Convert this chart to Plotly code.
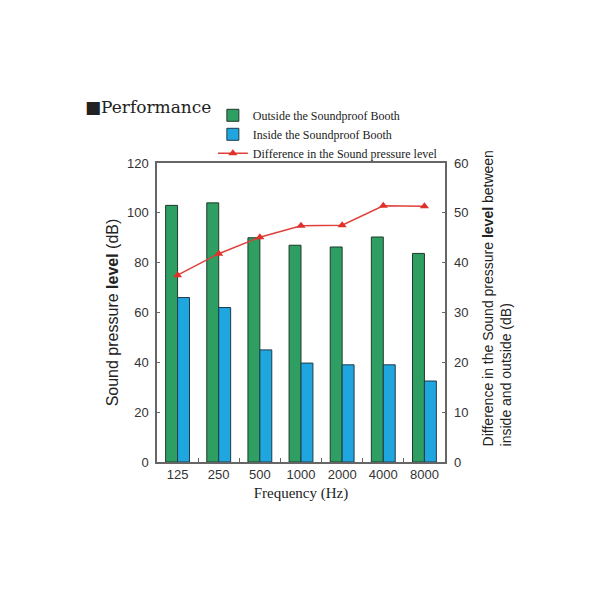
import plotly.graph_objects as go

categories = ["125", "250", "500", "1000", "2000", "4000", "8000"]
outside = [103, 104, 90, 87, 86.3, 90.3, 83.7]
inside = [66, 62, 45, 39.7, 39, 39, 32.5]
difference = [37.5, 41.8, 45.1, 47.4, 47.5, 51.4, 51.3]

serif = "Liberation Serif, DejaVu Serif, serif"
sans = "Liberation Sans, Arial, sans-serif"

fig = go.Figure()
fig.add_trace(go.Bar(
    x=categories, y=outside, name="Outside the Soundproof Booth",
    marker=dict(color="#2E9E62", line=dict(color="#1f3a2a", width=1)),
))
fig.add_trace(go.Bar(
    x=categories, y=inside, name="Inside the Soundproof Booth",
    marker=dict(color="#1FA6DE", line=dict(color="#1f3a4a", width=1)),
))
fig.add_trace(go.Scatter(
    x=categories, y=difference, name="Difference in the Sound pressure level",
    yaxis="y2", mode="lines+markers",
    line=dict(color="#E0403A", width=1.5),
    marker=dict(symbol="triangle-up", size=8, color="#E0302A"),
))

fig.update_layout(
    width=600, height=600,
    paper_bgcolor="white", plot_bgcolor="white",
    margin=dict(l=149, r=163, t=155, b=146, autoexpand=False),
    barmode="group", bargap=0.42, bargroupgap=0,
    showlegend=True,
    legend=dict(
        x=0.194, y=1.208, xanchor="left", yanchor="top",
        font=dict(family=serif, size=12, color="#222"),
        bgcolor="rgba(0,0,0,0)", tracegroupgap=0, itemwidth=30,
    ),
    xaxis=dict(
        type="category", showline=True, linecolor="#666", linewidth=1.5,
        mirror=True, ticks="inside", tickson="boundaries", ticklen=4,
        tickcolor="#666", tickfont=dict(family=sans, size=13, color="#333"),
        title=dict(text="Frequency (Hz)", font=dict(family=serif, size=15, color="#222"), standoff=6),
    ),
    yaxis=dict(
        range=[0, 120], dtick=20, showgrid=False, zeroline=False,
        showline=True, linecolor="#666", linewidth=1.5, mirror=True,
        ticks="inside", ticklen=3, tickcolor="#666", ticklabelstandoff=4,
        tickfont=dict(family=sans, size=13, color="#333"),
        title=dict(text="Sound pressure <b>level</b> (dB)", font=dict(family=sans, size=16, color="#222"), standoff=4),
    ),
    yaxis2=dict(
        range=[0, 60], dtick=10, overlaying="y", side="right",
        showgrid=False, zeroline=False, ticks="inside", ticklen=3, tickcolor="#666",
        ticklabelstandoff=8,
        tickfont=dict(family=sans, size=13, color="#333"),
    ),
    annotations=[
        dict(
            text="■Performance", xref="paper", yref="paper",
            x=-0.257, y=1.227, xanchor="left", yanchor="top", showarrow=False,
            font=dict(family="DejaVu Serif, serif", size=17, color="#222"),
        ),
        dict(
            text="Difference in the Sound pressure <b>level</b> between<br>inside and outside (dB)",
            xref="paper", yref="paper", x=1.18, y=0.045,
            xanchor="center", yanchor="bottom", textangle=-90, align="left",
            showarrow=False, font=dict(family=sans, size=14, color="#222"),
        ),
    ],
)

fig.write_html("out.html")
